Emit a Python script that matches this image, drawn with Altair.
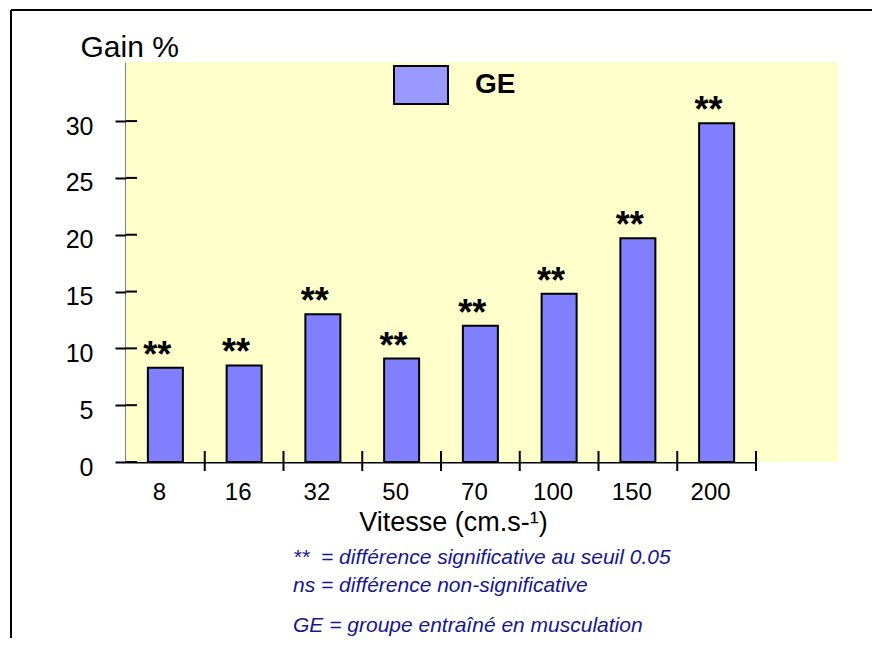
import altair as alt
import pandas as pd

# ---- data ----
speeds = ["8", "16", "32", "50", "70", "100", "150", "200"]
gains = [8.3, 8.5, 13.0, 9.1, 12.0, 14.8, 19.7, 29.8]
signif = ["**", "**", "**", "**", "**", "**", "**", "**"]
group = ["GE"] * 8
y_ticks = [0, 5, 10, 15, 20, 25, 30]
notes = [
    "**\u00a0\u00a0= différence significative au seuil 0.05",
    "ns = différence non-significative",
    "GE = groupe entraîné en musculation",
]

df = pd.DataFrame({"speed": speeds, "gain": gains, "sig": signif, "group": group})
ticks_df = pd.DataFrame({"t": y_ticks})
one = pd.DataFrame({"a": [0]})

W, H = 630, 400
FONT = "Liberation Sans"

x_enc = alt.X(
    "speed:N",
    sort=speeds,
    scale=alt.Scale(paddingInner=0, paddingOuter=0),
    axis=alt.Axis(
        title="Vitesse (cm.s-¹)",
        titleFontSize=27,
        titleFontWeight="normal",
        titleColor="black",
        titleX=327,
        titleY=68,
        titleBaseline="alphabetic",
        titleAlign="center",
        labelAngle=0,
        labelFontSize=24,
        labelColor="black",
        labelOffset=-6,
        labelPadding=18,
        ticks=False,
        domainColor="black",
        domainWidth=2,
        grid=False,
    ),
)
y_scale = alt.Scale(domain=[0, 35.2], nice=False, zero=True)
y_enc = alt.Y(
    "gain:Q",
    scale=y_scale,
    axis=alt.Axis(
        title="Gain %",
        titleAngle=0,
        titleFontSize=30,
        titleFontWeight="normal",
        titleColor="black",
        titleAlign="left",
        titleBaseline="alphabetic",
        titleX=-46,
        titleY=-6,
        values=y_ticks,
        labelFontSize=25,
        labelColor="black",
        labelPadding=22,
        labelOffset=5,
        tickSize=11,
        tickWidth=2,
        tickColor="black",
        domainColor="black",
        domainWidth=2,
        grid=False,
    ),
)

background = alt.Chart(one).mark_rect(fill="#FFFFCC").encode(
    x=alt.value(0), x2=alt.value(712), y=alt.value(0), y2=alt.value(H)
)

legend_layer = alt.Chart(df).mark_bar(strokeWidth=0).encode(
    x=x_enc,
    y=alt.Y("zero:Q", scale=y_scale),
    y2=alt.Y2("zero:Q"),
    color=alt.Color(
        "group:N",
        scale=alt.Scale(domain=["GE"], range=["#9999FF"]),
        legend=alt.Legend(
            title=None,
            orient="none",
            legendX=267,
            legendY=-5,
            padding=0,
            symbolType="M-1,-0.7037L1,-0.7037L1,0.7037L-1,0.7037Z",
            symbolSize=2916,
            symbolStrokeColor="black",
            symbolStrokeWidth=2,
            symbolOpacity=1,
            labelFontSize=28,
            labelFontWeight="bold",
            labelColor="black",
            labelOffset=26,
        ),
    ),
).transform_calculate(zero="0")

bars = alt.Chart(df).mark_bar(
    width=35, fill="#8080FF", stroke="black", strokeWidth=2
).encode(x=x_enc, y=y_enc)

stars = alt.Chart(df).mark_text(
    fontSize=36, fontWeight="bold", baseline="alphabetic", dy=-1, dx=-8, color="black"
).encode(x=alt.X("speed:N", sort=speeds), y=alt.Y("gain:Q", scale=y_scale), text="sig:N")

y_inner_ticks = alt.Chart(ticks_df).mark_rule(color="black", strokeWidth=2).encode(
    y=alt.Y("t:Q", scale=y_scale), x=alt.value(0), x2=alt.value(11)
)

x_ticks = alt.Chart(df).mark_rule(color="black", strokeWidth=2).encode(
    x=alt.X("speed:N", sort=speeds, bandPosition=1),
    y=alt.value(H - 11),
    y2=alt.value(H + 9),
)

frame_left = alt.Chart(one).mark_rule(color="black", strokeWidth=2).encode(
    x=alt.value(-115), y=alt.value(-52), y2=alt.value(700)
)
frame_top = alt.Chart(one).mark_rule(color="black", strokeWidth=2).encode(
    y=alt.value(-52), x=alt.value(-115), x2=alt.value(900)
)

note_layers = []
for txt, yy in zip(notes, [502, 530, 570]):
    note_layers.append(
        alt.Chart(pd.DataFrame({"n": [txt]})).mark_text(
            align="left", baseline="alphabetic", fontSize=21, fontStyle="italic", color="#161690"
        ).encode(text="n:N", x=alt.value(167), y=alt.value(yy))
    )

chart = alt.layer(
    background, legend_layer, bars, stars, y_inner_ticks, x_ticks,
    frame_left, frame_top, *note_layers
).properties(
    width=W, height=H,
    autosize=alt.AutoSizeParams(type="none"),
    padding={"left": 118, "top": 54, "right": 116, "bottom": 176},
).configure(font=FONT).configure_view(stroke=None)

chart.save("out.html", embed_options={"renderer": "svg", "actions": False})
